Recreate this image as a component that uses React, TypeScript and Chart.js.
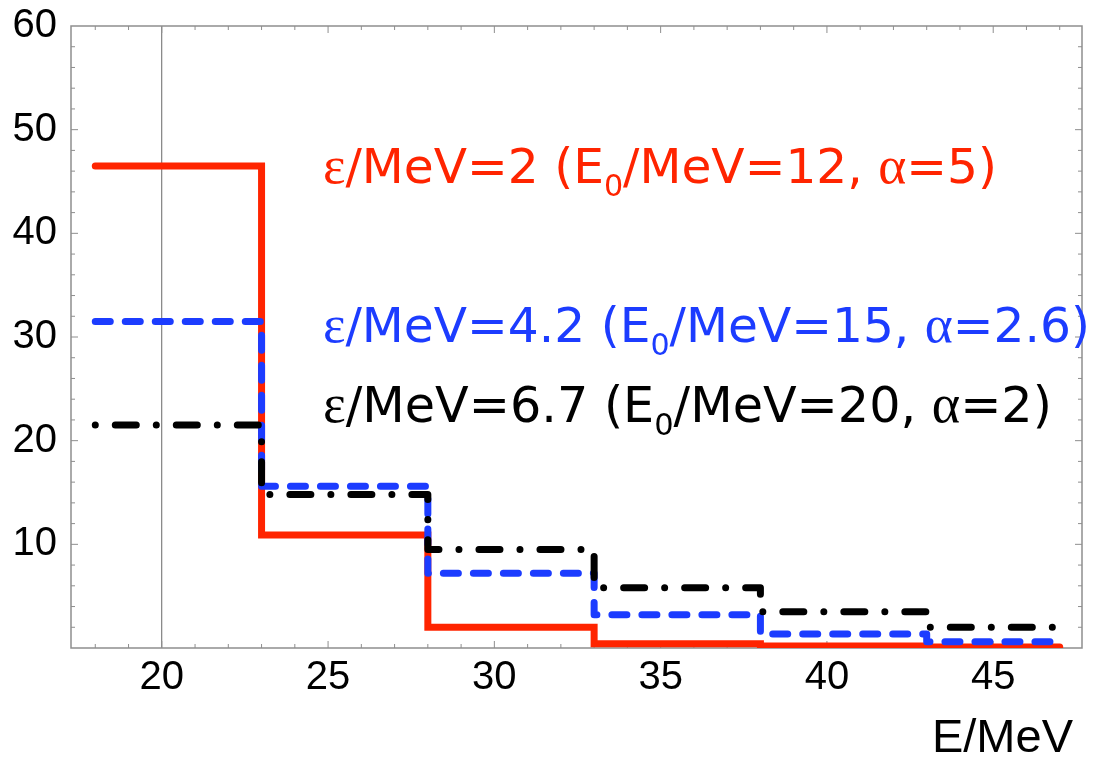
import React, { useEffect, useRef } from "react";
import { Chart, registerables } from "chart.js";

Chart.register(...registerables);

// ---- data ----
const binEdges = [18, 23, 28, 33, 38, 43, 47];
const redValues = [46.5, 10.9, 2.0, 0.4, 0.2, 0.1];
const blueValues = [31.5, 15.6, 7.2, 3.2, 1.35, 0.6];
const blackValues = [21.5, 14.8, 9.5, 5.8, 3.5, 2.0];
const xTickValues = [20, 25, 30, 35, 40, 45];
const yTickValues = [10, 20, 30, 40, 50, 60];
const seriesLabels = [
  "ε/MeV=2 (E_0/MeV=12, α=5)",
  "ε/MeV=4.2 (E_0/MeV=15, α=2.6)",
  "ε/MeV=6.7 (E_0/MeV=20, α=2)",
];
const xAxisTitle = "E/MeV";

const RED = "#ff2400";
const BLUE = "#1c3cff";
const BLACK = "#000000";
const FRAME = "#8e8e8e";

function stepPoints(values: number[]) {
  return binEdges.map((x, i) => ({ x, y: values[Math.min(i, values.length - 1)] }));
}

type Part = { t: string; sub?: boolean; greek?: boolean };
function parseRich(s: string): Part[] {
  const parts: Part[] = [];
  let i = 0;
  let buf = "";
  const flush = () => {
    if (buf) parts.push({ t: buf });
    buf = "";
  };
  while (i < s.length) {
    const c = s[i];
    if (c === "_" && i + 1 < s.length) {
      flush();
      parts.push({ t: s[i + 1], sub: true });
      i += 2;
      continue;
    }
    if (/[α-ωΑ-Ω]/.test(c)) {
      flush();
      parts.push({ t: c, greek: true });
      i++;
      continue;
    }
    buf += c;
    i++;
  }
  flush();
  return parts;
}

const MAIN_FONT = '"DejaVu Sans"';
const GREEK_FONT = '"Liberation Serif"';

function partFont(p: Part, size: number) {
  if (p.sub) return `${(size * 0.62).toFixed(2)}px ${MAIN_FONT}`;
  if (p.greek) return `${(size * 1.1).toFixed(2)}px ${GREEK_FONT}`;
  return `${size.toFixed(2)}px ${MAIN_FONT}`;
}

function measureRich(ctx: CanvasRenderingContext2D, parts: Part[], size: number) {
  let w = 0;
  for (const p of parts) {
    ctx.font = partFont(p, size);
    w += ctx.measureText(p.t).width;
  }
  return w;
}

function drawRich(
  ctx: CanvasRenderingContext2D,
  str: string,
  x: number,
  baseline: number,
  targetW: number,
  color: string
) {
  const parts = parseRich(str);
  const w100 = measureRich(ctx, parts, 100);
  const size = (100 * targetW) / w100;
  ctx.save();
  ctx.fillStyle = color;
  ctx.textAlign = "left";
  ctx.textBaseline = "alphabetic";
  let cx = x;
  for (const p of parts) {
    ctx.font = partFont(p, size);
    const dy = p.sub ? size * 0.26 : 0;
    ctx.fillText(p.t, cx, baseline + dy);
    cx += ctx.measureText(p.t).width;
  }
  ctx.restore();
}

const framePlugin = {
  id: "frameAndText",
  beforeDatasetsDraw(chart: any) {
    const { ctx, chartArea } = chart;
    const xs = chart.scales.x;
    const ys = chart.scales.y;
    const { left, right, top, bottom } = chartArea;
    ctx.save();
    ctx.strokeStyle = FRAME;
    ctx.lineWidth = 1.5;
    ctx.strokeRect(left, top, right - left, bottom - top);
    ctx.lineWidth = 1;
    ctx.beginPath();
    for (let v = Math.ceil(xs.min); v <= xs.max; v++) {
      const px = xs.getPixelForValue(v);
      const len = v % 5 === 0 ? 7 : 4;
      ctx.moveTo(px, bottom);
      ctx.lineTo(px, bottom - len);
      ctx.moveTo(px, top);
      ctx.lineTo(px, top + len);
    }
    for (let v = 2; v < 60; v += 2) {
      const py = ys.getPixelForValue(v);
      const len = v % 10 === 0 ? 7 : 4;
      ctx.moveTo(left, py);
      ctx.lineTo(left + len, py);
      ctx.moveTo(right, py);
      ctx.lineTo(right - len, py);
    }
    ctx.stroke();
    ctx.restore();
  },
  afterDraw(chart: any) {
    const { ctx, chartArea } = chart;
    const colors = [RED, BLUE, BLACK];
    const baselines = [183, 342, 422];
    const rightEdges = [997, 1090, 1052];
    const startX = 323;
    seriesLabels.forEach((s, i) => {
      drawRich(ctx, s, startX, baselines[i], rightEdges[i] - startX, colors[i]);
    });
    ctx.save();
    ctx.fillStyle = "#000";
    ctx.font = '47px "Liberation Sans"';
    ctx.textAlign = "right";
    ctx.textBaseline = "alphabetic";
    ctx.fillText(xAxisTitle, chartArea.right - 9, 752);
    ctx.restore();
  },
};

export default function App() {
  const canvasRef = useRef<HTMLCanvasElement | null>(null);

  useEffect(() => {
    const canvas = canvasRef.current;
    if (!canvas) return;
    const chart = new Chart(canvas, {
      type: "line",
      data: {
        datasets: [
          {
            label: seriesLabels[0],
            data: stepPoints(redValues),
            borderColor: RED,
            borderWidth: 7,
            stepped: "before",
            pointRadius: 0,
            borderCapStyle: "round",
            borderJoinStyle: "miter",
            order: 3,
          },
          {
            label: seriesLabels[1],
            data: stepPoints(blueValues),
            borderColor: BLUE,
            borderWidth: 7,
            stepped: "before",
            pointRadius: 0,
            borderDash: [15, 15],
            borderCapStyle: "round",
            borderJoinStyle: "round",
            order: 2,
          },
          {
            label: seriesLabels[2],
            data: stepPoints(blackValues),
            borderColor: BLACK,
            borderWidth: 7,
            stepped: "before",
            pointRadius: 0,
            borderDash: [0.01, 20, 21, 20],
            borderCapStyle: "round",
            borderJoinStyle: "round",
            order: 1,
          },
        ],
      },
      options: {
        responsive: false,
        animation: false,
        layout: { padding: { left: 0, top: 26, right: 11, bottom: 0 } },
        plugins: {
          legend: { display: false },
          tooltip: { enabled: false },
        },
        scales: {
          x: {
            type: "linear",
            min: 17.27,
            max: 47.67,
            afterBuildTicks: (scale: any) => {
              scale.ticks = xTickValues.map((v) => ({ value: v }));
            },
            afterFit: (scale: any) => {
              scale.height = 116;
              scale.paddingLeft = 0;
              scale.paddingRight = 0;
            },
            grid: {
              color: (c: any) => (c.tick && c.tick.value === 20 ? "#8a8a8a" : "rgba(0,0,0,0)"),
              lineWidth: 1.3,
              drawTicks: false,
            },
            border: { display: false },
            ticks: {
              font: { family: '"Liberation Sans"', size: 40 },
              color: "#000",
              padding: 6,
              maxRotation: 0,
              autoSkip: false,
              callback: (v: any) => String(v),
            },
          },
          y: {
            type: "linear",
            min: 0,
            max: 60,
            afterBuildTicks: (scale: any) => {
              scale.ticks = yTickValues.map((v) => ({ value: v }));
            },
            afterFit: (scale: any) => {
              scale.width = 71;
              scale.paddingTop = 0;
              scale.paddingBottom = 0;
            },
            grid: { display: false, drawTicks: false },
            border: { display: false },
            ticks: {
              font: { family: '"Liberation Sans"', size: 40 },
              color: "#000",
              padding: 14,
              autoSkip: false,
              callback: (v: any) => String(v),
            },
          },
        },
      },
      plugins: [framePlugin],
    });
    return () => chart.destroy();
  }, []);

  return (
    <div style={{ position: "fixed", left: 0, top: 0, width: 1093, height: 764, background: "#fff" }}>
      <canvas ref={canvasRef} width={1093} height={764} style={{ display: "block" }} />
    </div>
  );
}
